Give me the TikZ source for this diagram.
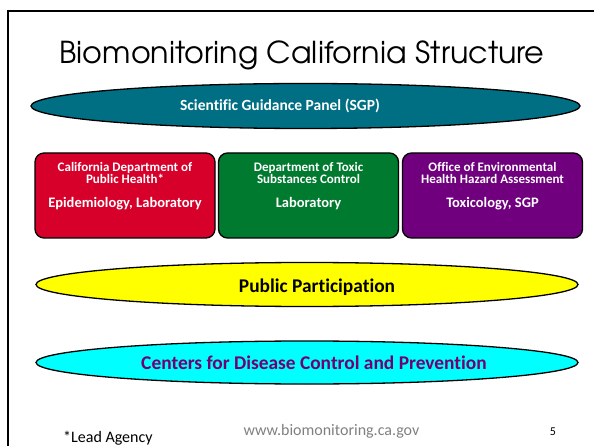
\documentclass[tikz,border=0pt]{standalone}
\usepackage{fontspec}
\setmainfont{Carlito}[Ligatures=NoCommon]
\newfontfamily\headfont{texgyreadventor-regular.otf}
\usetikzlibrary{shapes.geometric}

\definecolor{panelteal}{RGB}{0,111,131}
\definecolor{cdphred}{RGB}{215,0,42}
\definecolor{dtscgreen}{RGB}{0,122,46}
\definecolor{oehhapurple}{RGB}{112,0,126}
\definecolor{publicyellow}{RGB}{255,255,0}
\definecolor{cdccyan}{RGB}{0,255,255}
\definecolor{cdcpurple}{RGB}{112,0,112}
\definecolor{urlgray}{RGB}{128,128,128}

\begin{document}
\begin{tikzpicture}[x=1pt,y=-1pt,
  band/.style={ellipse, draw=black, line width=1.3pt, inner sep=0pt},
  agency/.style={rectangle, rounded corners=9pt, draw=black, line width=1.3pt,
    minimum width=180pt, minimum height=85pt, inner sep=0pt},
  boxhead/.style={anchor=base, text=white, inner sep=0pt,
    font=\bfseries\fontsize{13}{15}\selectfont},
  boxrole/.style={anchor=base, text=white, inner sep=0pt,
    font=\bfseries\fontsize{14.5}{17}\selectfont},
  bandtext/.style={anchor=base, inner sep=0pt,
    font=\bfseries\fontsize{19.4}{22}\selectfont},
  foot/.style={anchor=base, inner sep=0pt, font=\fontsize{16}{18}\selectfont}]

\useasboundingbox (0,0) rectangle (594,446);

% slide frame (runs off the right and bottom edges)
\coordinate (frameBL) at (7.5,450);
\coordinate (frameTL) at (7.5,11.5);
\coordinate (frameTR) at (600,11.5);
\draw[line width=2pt] (frameBL) -- (frameTL) -- (frameTR);

% title
\node[anchor=base, inner sep=0pt, font=\headfont\fontsize{30.2}{34}\selectfont]
  (title) at (302,63.5) {Biomonitoring California Structure};

% Scientific Guidance Panel
\node[band, fill=panelteal, minimum width=549pt, minimum height=45pt] (sgp) at (305.5,106) {};
\node[anchor=base, inner sep=0pt, text=white, font=\bfseries\fontsize{15.5}{18}\selectfont]
  (sgptext) at (280,111) {Scientific Guidance Panel (SGP)};

% the three departments
\node[agency, fill=cdphred] (cdph) at (125,195.5) {};
\node[boxhead] (cdph1) at (125,171.5) {California Department of};
\node[boxhead] (cdph2) at (125,184) {Public Health*};
\node[boxrole] (cdph3) at (125,208) {Epidemiology, Laboratory};

\node[agency, fill=dtscgreen] (dtsc) at (308.5,195.5) {};
\node[boxhead] (dtsc1) at (308.5,171.5) {Department of Toxic};
\node[boxhead] (dtsc2) at (308.5,184) {Substances Control};
\node[boxrole] (dtsc3) at (308.5,208) {Laboratory};

\node[agency, fill=oehhapurple] (oehha) at (492.5,195.5) {};
\node[boxhead] (oehha1) at (492.5,171.5) {Office of Environmental};
\node[boxhead] (oehha2) at (492.5,184) {Health Hazard Assessment};
\node[boxrole] (oehha3) at (492.5,208) {Toxicology, SGP};

% public participation
\node[band, fill=publicyellow, minimum width=542pt, minimum height=44pt] (public) at (307,284.5) {};
\node[bandtext, text=black] (publictext) at (317,292) {Public Participation};

% CDC
\node[band, fill=cdccyan, minimum width=542pt, minimum height=43pt] (cdc) at (307,362.5) {};
\node[bandtext, text=cdcpurple] (cdctext) at (314,369.5) {Centers for Disease Control and Prevention};

% footer
\node[foot, anchor=base west] (lead) at (63,442.5) {*Lead Agency};
\node[foot, text=urlgray] (url) at (331.5,435) {www.biomonitoring.ca.gov};
\node[anchor=base, inner sep=0pt, font=\fontsize{12}{14}\selectfont] (page) at (553,435) {5};
\end{tikzpicture}
\end{document}
